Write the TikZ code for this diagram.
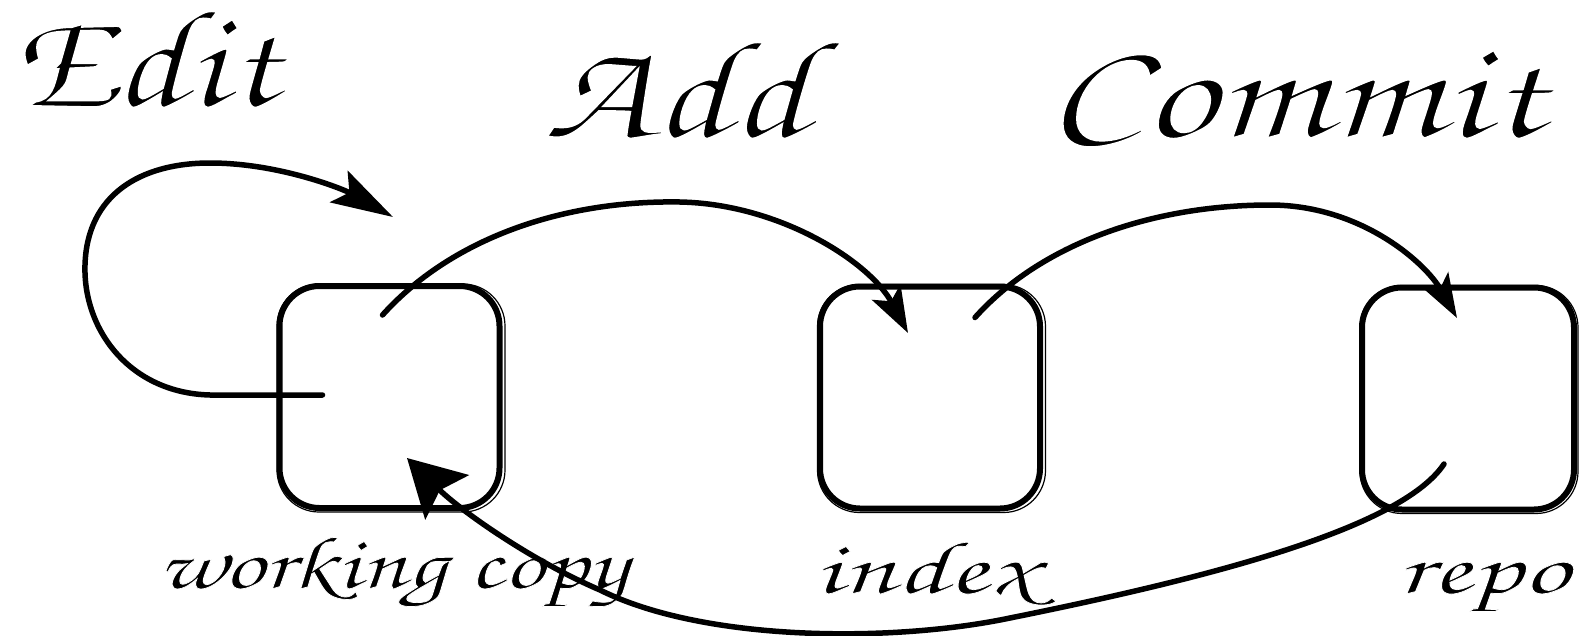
\documentclass[tikz,border=0pt]{standalone}
\usepackage{fontspec}
\newfontfamily\chorus[Extension=.otf]{texgyrechorus-mediumitalic}
\usetikzlibrary{arrows.meta,calc}
\newcommand{\wtxt}[3]{\special{pdf:literal direct 2 Tr 1 G #3 w}\scalebox{#1}[1]{#2}\special{pdf:literal direct 0 Tr 0 G}}
\begin{document}
\begin{tikzpicture}[x=1pt,y=-1pt,
  boxst/.style={draw, line width=6pt, rounded corners=40pt, minimum width=220pt, minimum height=222pt, inner sep=0pt},
  sketch/.style={draw, line width=1.2pt, rounded corners=42pt, minimum width=228pt, minimum height=228pt, inner sep=0pt},
  ttl/.style={font=\chorus\fontsize{140}{140}\selectfont, inner sep=0pt, anchor=base west},
  lbl/.style={font=\chorus\fontsize{75}{75}\selectfont, inner sep=0pt, anchor=base west},
  flow/.style={line width=5.5pt, line cap=round}
]
\useasboundingbox (0,0) rectangle (1580,635);
\node[boxst] (wc) at (389.5,397) {};
\node[boxst] (idx) at (930,397.5) {};
\node[boxst, minimum width=212pt] (repo) at (1468,398.5) {};
\node[sketch] (wcs) at (391,398) {};
\node[sketch] (idxs) at (931.5,398.5) {};
\node[sketch, minimum width=218pt] (repos) at (1469,399.5) {};
\coordinate (edittip) at (393,217);

\node[ttl] (tedit) at (9,106) {\wtxt{1.19}{Edit}{2.0}};
\node[ttl] (tadd) at (543,137) {\wtxt{1.26}{Add}{2.0}};
\node[ttl] (tcommit) at (1046,137) {\wtxt{1.31}{Commit}{2.0}};
\node[lbl] (twc) at (157,588) {\wtxt{1.34}{working copy}{0.7}};
\node[lbl] (tidx) at (813,593) {\wtxt{1.57}{index}{0.7}};
\node[lbl] (trepo) at (1396,593) {\wtxt{1.55}{repo}{0.7}};

\draw[flow,-{Stealth[length=62pt,width=36pt,inset=12pt]}] ($(wc.center)+(-67,-2)$) -- (210,395) .. controls (130,393) and (83,330) .. (85,265) .. controls (87,195) and (140,163) .. (210,163) .. controls (280,163) and (345,190) .. (edittip);

\draw[flow,-{Stealth[length=46pt,width=32pt,inset=10pt]}] ($(wc.center)+(-7,-82)$) .. controls (450,240) and (560,200) .. (680,202) .. controls (780,204) and (870,262) .. ($(idx.center)+(-22,-64.5)$);

\draw[flow,-{Stealth[length=44pt,width=30pt,inset=10pt]}] ($(idx.center)+(45,-80)$) .. controls (1040,245) and (1150,205) .. (1270,205) .. controls (1360,205) and (1425,262) .. ($(repo.center)+(-11,-80.5)$);

\draw[flow,-{Stealth[length=56pt,width=62pt,inset=10pt]}] ($(repo.center)+(-24,65.5)$) .. controls (1400,530) and (1200,580) .. (1000,620) .. controls (880,643) and (700,640) .. (600,590) .. controls (530,560) and (460,510) .. ($(wc.center)+(17.5,61)$);
\end{tikzpicture}
\end{document}
